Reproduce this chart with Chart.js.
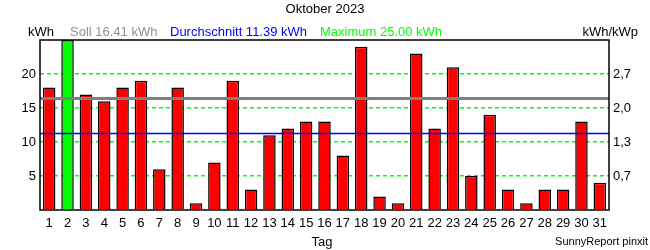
<!DOCTYPE html>
<html>
<head>
<meta charset="utf-8">
<script src="https://cdn.jsdelivr.net/npm/chart.js@4"></script>
<style>
  body { margin:0; background:#fff; }
  #box { width:650px; height:250px; }
</style>
</head>
<body>
<div id="box"><canvas id="myChart" width="650" height="250"></canvas></div>
<script>
// daten (kWh pro Tag)
const tage = ['1','2','3','4','5','6','7','8','9','10','11','12','13','14','15','16','17','18','19','20','21','22','23','24','25','26','27','28','29','30','31'];
const ertrag = [18,25,17,16,18,19,6,18,1,7,19,3,11,12,13,13,8,24,2,1,23,12,21,5,14,3,1,3,3,13,4];
const soll = 16.41;
const schnitt = 11.39;
const maximum = 25.00;
const linksTicks = [5,10,15,20];
const rechtsTicks = ['0,7','1,3','2,0','2,7'];

const farben = ertrag.map(v => v == maximum ? '#00ff00' : '#ff0000');
const schrift = '"Liberation Sans", Arial, sans-serif';

const ctx = document.getElementById('myChart');

// linien + rahmen + texte
const extras = {
  id:'extras',
  afterDatasetsDraw(chart){
    const c = chart.ctx, a = chart.chartArea, y = chart.scales.y;
    c.save();
    // soll linie
    c.strokeStyle = '#808080'; c.lineWidth = 3;
    let p = y.getPixelForValue(soll);
    c.beginPath(); c.moveTo(a.left, p); c.lineTo(a.right, p); c.stroke();
    // durchschnitt
    c.strokeStyle = '#0000ff'; c.lineWidth = 1.3;
    p = Math.round(y.getPixelForValue(schnitt)) + 0.5;
    c.beginPath(); c.moveTo(a.left, p); c.lineTo(a.right, p); c.stroke();
    // rahmen
    c.strokeStyle = '#000'; c.lineWidth = 1.5;
    c.strokeRect(a.left, a.top, a.right - a.left, a.bottom - a.top);
    c.restore();
  },
  afterDraw(chart){
    const c = chart.ctx;
    c.save();
    c.font = '13px ' + schrift;
    c.textBaseline = 'middle';
    c.textAlign = 'center';
    c.fillStyle = '#000';
    c.fillText('Oktober 2023', 325, 9);
    c.textAlign = 'left';
    c.fillText('kWh', 28, 32);
    c.fillStyle = '#909090';
    c.fillText('Soll ' + soll.toFixed(2) + ' kWh', 70, 32);
    c.fillStyle = '#0000ff';
    c.fillText('Durchschnitt ' + schnitt.toFixed(2) + ' kWh', 170, 32);
    c.fillStyle = '#00ff00';
    c.fillText('Maximum ' + maximum.toFixed(2) + ' kWh', 320, 32);
    c.fillStyle = '#000';
    c.textAlign = 'right';
    c.fillText('kWh/kWp', 638, 32);
    c.textAlign = 'center';
    c.fillText('Tag', 322, 242);
    c.font = '11px ' + schrift;
    c.textAlign = 'right';
    c.fillText('SunnyReport pinxit', 648, 242);
    c.restore();
  }
};

new Chart(ctx, {
  type:'bar',
  data:{
    labels: tage,
    datasets:[{
      data: ertrag,
      backgroundColor: farben,
      borderColor:'#000',
      borderWidth:1.5,
      barPercentage:0.68,
      categoryPercentage:1
    }]
  },
  options:{
    responsive:false,
    animation:false,
    layout:{ padding:{ top:40 } },
    plugins:{ legend:{display:false}, tooltip:{enabled:false}, title:{display:false} },
    scales:{
      x:{
        grid:{ display:false, drawTicks:false },
        border:{ display:false },
        ticks:{ color:'#000', padding:6, maxRotation:0, autoSkip:false,
                font:{ family:schrift, size:13 } },
        afterFit(s){ s.height = 40; }
      },
      y:{
        min:0, max:25,
        grid:{
          drawTicks:false,
          color:(c)=> linksTicks.includes(c.tick.value) ? '#00ff00' : 'rgba(0,0,0,0)',
          lineWidth:1.5
        },
        border:{ display:false, dash:[4,3] },
        ticks:{ stepSize:5, color:'#000', padding:4,
                font:{ family:schrift, size:13 },
                callback:(v)=> linksTicks.includes(v) ? v : '' },
        afterFit(s){ s.width = 40; }
      },
      y1:{
        position:'right',
        min:0, max:25,
        grid:{ display:false, drawTicks:false },
        border:{ display:false },
        ticks:{ stepSize:5, color:'#000', padding:4,
                font:{ family:schrift, size:13 },
                callback:(v)=> { let i = linksTicks.indexOf(v); return i < 0 ? '' : rechtsTicks[i]; } },
        afterFit(s){ s.width = 41; }
      }
    }
  },
  plugins:[extras]
});
</script>
</body>
</html>
